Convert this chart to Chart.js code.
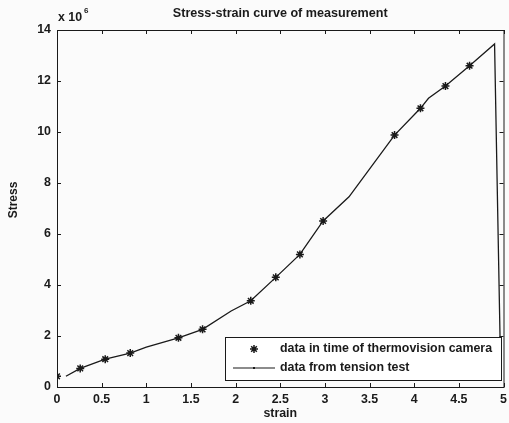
<!DOCTYPE html>
<html>
<head>
<meta charset="utf-8">
<script src="https://cdn.jsdelivr.net/npm/chart.js@4/dist/chart.umd.min.js"></script>
<style>
  body { margin: 0; background: #fbfbfb; }
</style>
</head>
<body>
<canvas id="stressChart" width="509" height="423"></canvas>
<script>
// values, stress in units of 10^6
const tensionStrain = [0.10, 0.26, 0.54, 0.82, 1.00, 1.36, 1.63, 1.95, 2.17, 2.45, 2.72, 2.98, 3.27, 3.78, 4.07, 4.16, 4.35, 4.62, 4.90, 4.97];
const tensionStress = [0.42, 0.73, 1.09, 1.33, 1.56, 1.93, 2.26, 2.98, 3.38, 4.30, 5.20, 6.51, 7.46, 9.88, 10.93, 11.32, 11.80, 12.60, 13.45, 0.30];
const cameraStrain = [0.00, 0.26, 0.54, 0.82, 1.36, 1.63, 2.17, 2.45, 2.72, 2.98, 3.78, 4.07, 4.35, 4.62];
const cameraStress = [0.42, 0.73, 1.09, 1.33, 1.93, 2.26, 3.38, 4.30, 5.20, 6.51, 9.88, 10.93, 11.80, 12.60];
const xTicks = [0, 0.5, 1, 1.5, 2, 2.5, 3, 3.5, 4, 4.5, 5];
const yTicks = [0, 2, 4, 6, 8, 10, 12, 14];
const legendLabels = ['data in time of thermovision camera', 'data from tension test'];

const FONT = '"Liberation Sans", Arial, sans-serif';
const INK = '#1a1a1a';

const toPoints = (xs, ys) => xs.map((v, i) => ({ x: v, y: ys[i] }));

// box, inward ticks, texts and legend, matlab style
const framePlugin = {
    id: 'frame',
    afterDraw(chart) {
        const { ctx, chartArea: a, scales: { x, y } } = chart;
        ctx.save();
        ctx.strokeStyle = INK;
        ctx.lineWidth = 1;
        ctx.strokeRect(a.left + 0.5, a.top + 0.5, a.right - a.left, a.bottom - a.top);

        ctx.beginPath();
        xTicks.forEach(v => {
            const px = Math.round(x.getPixelForValue(v)) + 0.5;
            ctx.moveTo(px, a.bottom); ctx.lineTo(px, a.bottom - 4);
            ctx.moveTo(px, a.top); ctx.lineTo(px, a.top + 4);
        });
        yTicks.forEach(v => {
            const py = Math.round(y.getPixelForValue(v)) + 0.5;
            ctx.moveTo(a.left, py); ctx.lineTo(a.left + 4, py);
            ctx.moveTo(a.right, py); ctx.lineTo(a.right - 4, py);
        });
        ctx.stroke();

        ctx.fillStyle = INK;
        ctx.textBaseline = 'middle';
        ctx.textAlign = 'center';
        ctx.font = 'bold 12.6px ' + FONT;
        ctx.fillText('Stress-strain curve of measurement', (a.left + a.right) / 2, 14);
        ctx.font = 'bold 12.4px ' + FONT;
        ctx.fillText('strain', (a.left + a.right) / 2, 414);

        ctx.textAlign = 'left';
        ctx.fillText('x 10', a.left + 1, 18);
        ctx.font = 'bold 8px ' + FONT;
        ctx.fillText('6', a.left + 27, 11);

        ctx.save();
        ctx.translate(14, 200);
        ctx.rotate(-Math.PI / 2);
        ctx.textAlign = 'center';
        ctx.font = 'bold 12px ' + FONT;
        ctx.fillText('Stress', 0, 0);
        ctx.restore();

        // legend box
        const lx = 225, ly = 337, lw = 276, lh = 43;
        ctx.fillStyle = '#ffffff';
        ctx.fillRect(lx, ly, lw, lh);
        ctx.strokeRect(lx + 0.5, ly + 0.5, lw, lh);
        ctx.strokeStyle = INK;
        ctx.lineWidth = 1.5;
        Chart.helpers.drawPoint(ctx, { pointStyle: 'star', radius: 4, rotation: 0, borderWidth: 1.5 }, lx + 29, ly + 12);
        ctx.lineWidth = 1.2;
        ctx.beginPath();
        ctx.moveTo(lx + 8, ly + 31); ctx.lineTo(lx + 50, ly + 31);
        ctx.stroke();
        ctx.fillStyle = INK;
        ctx.fillRect(lx + 28, ly + 30, 2, 2);
        ctx.font = 'bold 12.4px ' + FONT;
        ctx.textAlign = 'left';
        ctx.fillText(legendLabels[0], lx + 55, ly + 12);
        ctx.fillText(legendLabels[1], lx + 55, ly + 31);
        ctx.restore();
    }
};

const tickFont = { family: FONT, size: 12.4, weight: 'bold' };

const ctx = document.getElementById('stressChart').getContext('2d');
const stressChart = new Chart(ctx, {
    type: 'scatter',
    data: {
        datasets: [{
            label: legendLabels[1],
            data: toPoints(tensionStrain, tensionStress),
            showLine: true,
            borderColor: INK,
            borderWidth: 1.3,
            pointRadius: 0,
            tension: 0
        }, {
            label: legendLabels[0],
            data: toPoints(cameraStrain, cameraStress),
            showLine: false,
            pointStyle: 'star',
            pointRadius: 4,
            borderColor: INK,
            pointBorderWidth: 1.5
        }]
    },
    options: {
        responsive: false,
        animation: false,
        layout: { padding: { top: 30, right: 3, left: 0, bottom: 0 } },
        plugins: { legend: { display: false }, tooltip: { enabled: false } },
        scales: {
            x: {
                type: 'linear', min: 0, max: 5,
                grid: { display: false, drawTicks: false },
                border: { display: false },
                afterBuildTicks: s => { s.ticks = xTicks.map(v => ({ value: v })); },
                afterFit: s => { s.height = 36; s.paddingLeft = 0; s.paddingRight = 0; },
                ticks: { color: INK, font: tickFont, padding: 5, maxRotation: 0, autoSkip: false, callback: v => String(v) }
            },
            y: {
                type: 'linear', min: 0, max: 14,
                grid: { display: false, drawTicks: false },
                border: { display: false },
                afterBuildTicks: s => { s.ticks = yTicks.map(v => ({ value: v })); },
                afterFit: s => { s.width = 57; },
                ticks: { color: INK, font: tickFont, padding: 6, autoSkip: false, callback: v => String(v) }
            }
        }
    },
    plugins: [framePlugin]
});
</script>
</body>
</html>
